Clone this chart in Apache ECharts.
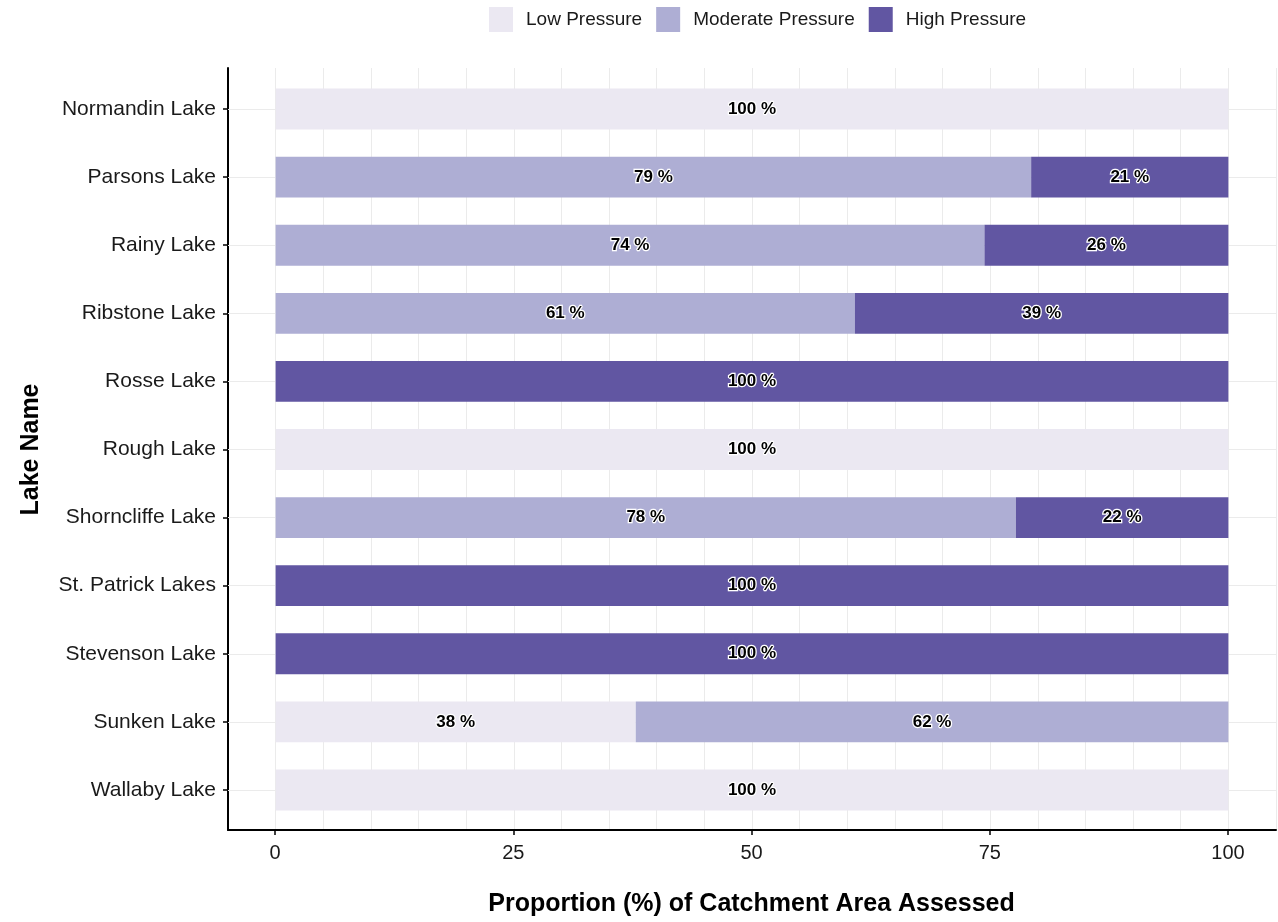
<!DOCTYPE html>
<html>
<head>
<meta charset="utf-8">
<script src="https://cdn.jsdelivr.net/npm/echarts@6/dist/echarts.min.js"></script>
<style>
  html, body { margin: 0; padding: 0; background: #fff; }
  #chart { width: 1278px; height: 922px; }
</style>
</head>
<body>
<div id="chart"></div>
<script>
// lakes listed top to bottom
var lakes = ['Normandin Lake', 'Parsons Lake', 'Rainy Lake', 'Ribstone Lake', 'Rosse Lake', 'Rough Lake',
  'Shorncliffe Lake', 'St. Patrick Lakes', 'Stevenson Lake', 'Sunken Lake', 'Wallaby Lake'];
var lowPressure = [100, 0, 0, 0, 0, 100, 0, 0, 0, 37.8, 100];
var moderatePressure = [0, 79.3, 74.4, 60.8, 0, 0, 77.7, 0, 0, 62.2, 0];
var highPressure = [0, 20.7, 25.6, 39.2, 100, 0, 22.3, 100, 100, 0, 0];
var xTicks = [0, 25, 50, 75, 100];

var colors = ['#EBE8F2', '#AEAED4', '#6156A2'];
var font = '"Liberation Sans", Arial, sans-serif';

var cleanData = function (arr) {
  return arr.map(function (v) { return v > 0 ? v : '-'; });
};

var barLabel = {
  show: true,
  position: 'inside',
  fontFamily: font,
  fontSize: 17,
  fontWeight: 'bold',
  color: '#000',
  textBorderColor: '#fff',
  textBorderWidth: 2.5,
  formatter: function (p) { return Math.round(p.value) + ' %'; }
};

var makeBar = function (name, data, color) {
  return {
    name: name,
    type: 'bar',
    stack: 'total',
    xAxisIndex: 2,
    yAxisIndex: 2,
    barCategoryGap: '40%',
    itemStyle: { color: color },
    label: barLabel,
    emphasis: { disabled: true },
    data: cleanData(data)
  };
};

var series = [
  makeBar('Low Pressure', lowPressure, colors[0]),
  makeBar('Moderate Pressure', moderatePressure, colors[1]),
  makeBar('High Pressure', highPressure, colors[2])
];
// horizontal grid lines at each lake
series[0].markLine = {
  silent: true,
  symbol: 'none',
  z: 1,
  label: { show: false },
  lineStyle: { color: '#ebebeb', type: 'solid', width: 1 },
  data: lakes.map(function (l) { return { yAxis: l }; })
};

var option = {
  backgroundColor: '#fff',
  animation: false,
  legend: {
    top: 2,
    left: 484,
    itemWidth: 24,
    itemHeight: 25,
    itemGap: 14,
    icon: 'rect',
    textStyle: { fontFamily: font, fontSize: 19, color: '#1a1a1a', padding: [0, 0, 0, 8] },
    data: ['Low Pressure', 'Moderate Pressure', 'High Pressure']
  },
  grid: [
    { left: 228, right: 2, top: 68, bottom: 92 },
    { left: 275, width: 953, top: 68, bottom: 92 },
    { left: 228, right: 2, top: 75, bottom: 98 }
  ],
  xAxis: [
    {
      gridIndex: 0, type: 'value', min: -5, max: 105, interval: 5,
      axisLine: { show: true, onZero: false, lineStyle: { color: '#000', width: 2 } },
      axisTick: { show: false },
      axisLabel: { show: false },
      splitLine: { show: true, lineStyle: { color: '#ebebeb', width: 1 } }
    },
    {
      gridIndex: 1, type: 'value', min: xTicks[0], max: xTicks[xTicks.length - 1], interval: 25,
      name: 'Proportion (%) of Catchment Area Assessed',
      nameLocation: 'middle',
      nameGap: 62,
      nameTextStyle: { fontFamily: font, fontSize: 25, fontWeight: 'bold', color: '#000' },
      axisLine: { show: false },
      axisTick: { show: true, length: 5, lineStyle: { color: '#000', width: 1.5 } },
      axisLabel: { fontFamily: font, fontSize: 20, color: '#1a1a1a', margin: 13 },
      splitLine: { show: false }
    },
    {
      gridIndex: 2, type: 'value', min: -5, max: 105, show: false
    }
  ],
  yAxis: [
    {
      gridIndex: 0, type: 'value', min: 0, max: 1,
      axisLine: { show: true, onZero: false, lineStyle: { color: '#000', width: 2 } },
      axisTick: { show: false },
      axisLabel: { show: false },
      splitLine: { show: false }
    },
    {
      gridIndex: 1, type: 'value', min: 0, max: 1, show: false
    },
    {
      gridIndex: 2, type: 'category', inverse: true, data: lakes,
      name: 'Lake Name',
      nameLocation: 'middle',
      nameGap: 184,
      nameTextStyle: { fontFamily: font, fontSize: 25, fontWeight: 'bold', color: '#000' },
      axisLine: { show: false, onZero: false },
      axisTick: { show: true, alignWithLabel: true, length: 5, lineStyle: { color: '#000', width: 1.5 } },
      axisLabel: { fontFamily: font, fontSize: 21, color: '#1a1a1a', margin: 12 },
      splitLine: { show: false }
    }
  ],
  series: series
};

var myChart = echarts.init(document.getElementById('chart'));
myChart.setOption(option);
</script>
</body>
</html>
